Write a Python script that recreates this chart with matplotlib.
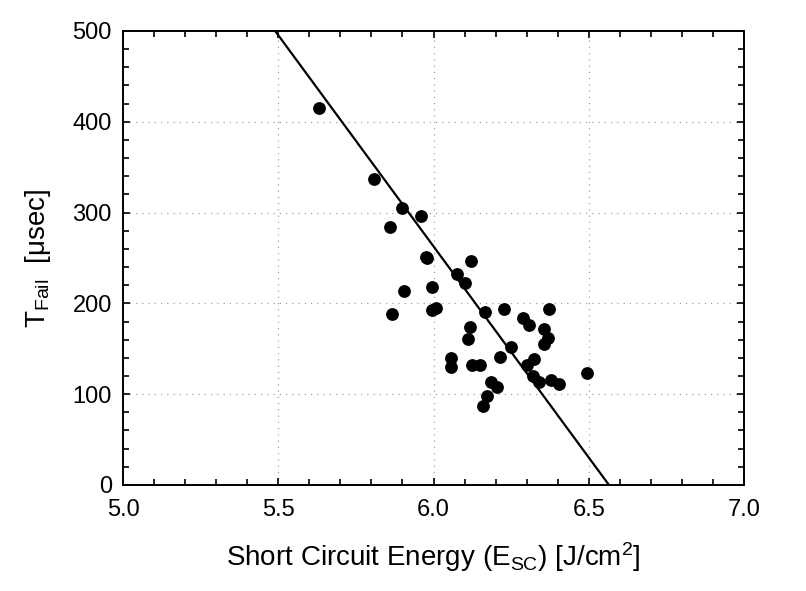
import matplotlib
matplotlib.use("Agg")
import matplotlib.pyplot as plt
import numpy as np
from matplotlib.ticker import MultipleLocator

plt.rcParams['font.family'] = ['Liberation Sans', 'DejaVu Sans']
plt.rcParams['mathtext.fontset'] = 'custom'
plt.rcParams['mathtext.rm'] = 'Liberation Sans'
plt.rcParams['mathtext.it'] = 'Liberation Sans'

# short circuit energy (J/cm^2) vs. time to failure (usec)
energy = [5.631, 5.808, 5.899, 5.960, 5.860, 5.979, 5.975, 5.905, 5.995, 5.866,
          5.995, 6.008, 6.121, 6.076, 6.101, 6.166, 6.227, 6.372, 6.118, 6.111,
          6.288, 6.308, 6.356, 6.369, 6.356, 6.250, 6.214, 6.056, 6.056, 6.124,
          6.150, 6.324, 6.301, 6.320, 6.340, 6.378, 6.404, 6.494, 6.185, 6.205,
          6.172, 6.159]
t_fail = [415, 337, 305, 296, 284, 250, 251, 214, 218, 188,
          193, 195, 247, 232, 222, 191, 194, 194, 174, 161,
          184, 176, 172, 162, 155, 152, 141, 140, 130, 132,
          132, 139, 132, 120, 113, 116, 111, 123, 113, 108,
          98, 87]

# fitted trend line end points (x at T=500 and x at T=0)
fit_x = [5.49, 6.565]
fit_y = [500, 0]

fig = plt.figure(figsize=(8.06, 5.91), dpi=100)
ax = fig.add_axes([0.1526, 0.1794, 0.7705, 0.7682])

slope = (fit_y[1] - fit_y[0]) / (fit_x[1] - fit_x[0])
xl = np.array([5.0, 7.0])
ax.plot(xl, fit_y[0] + slope * (xl - fit_x[0]), color='black', lw=1.6, zorder=3)
ax.scatter(energy, t_fail, s=85, color='black', zorder=4, linewidths=0)

ax.set_xlim(5.0, 7.0)
ax.set_ylim(0, 500)
ax.xaxis.set_major_locator(MultipleLocator(0.5))
ax.xaxis.set_minor_locator(MultipleLocator(0.1))
ax.yaxis.set_major_locator(MultipleLocator(100))
ax.yaxis.set_minor_locator(MultipleLocator(20))
ax.xaxis.set_major_formatter(matplotlib.ticker.FormatStrFormatter('%.1f'))

ax.tick_params(which='both', direction='in', top=True, right=True,
               labelsize=17, width=1.2)
ax.tick_params(axis='x', which='major', pad=10)
ax.tick_params(axis='y', which='major', pad=8)
ax.tick_params(which='major', length=5)
ax.tick_params(which='minor', length=4)
for sp in ax.spines.values():
    sp.set_linewidth(1.4)

ax.grid(True, which='major', linestyle=(0, (1, 4)), color='#a0a0a0', lw=0.9)

ax.set_xlabel(r'Short Circuit Energy (E$_{SC}$) [J/cm$^{2}$]', fontsize=20, labelpad=14)
ax.set_ylabel(r'T$_{Fail}$  [$\mu$sec]', fontsize=20, labelpad=14)

fig.savefig('out.png', dpi=100)
